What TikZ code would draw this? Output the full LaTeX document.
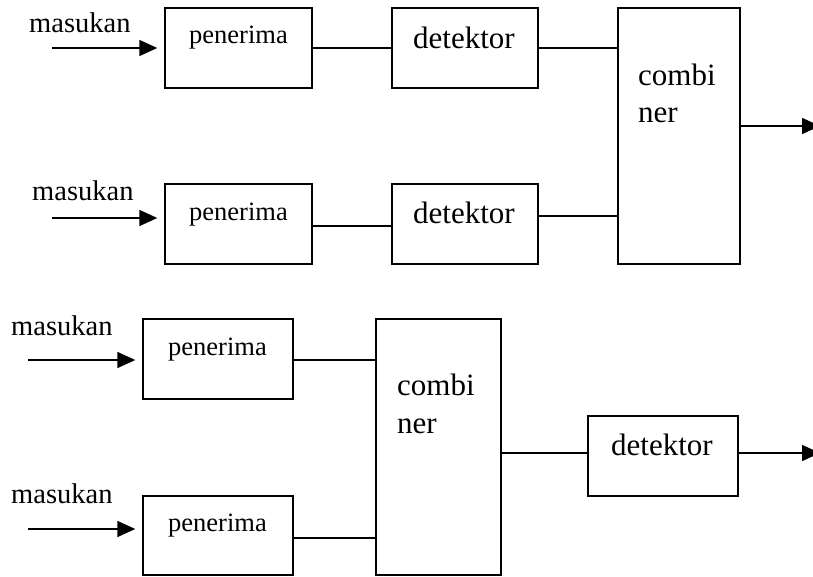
\documentclass[tikz,border=0pt]{standalone}
\usepackage{fontspec}
\setmainfont{Liberation Serif}
\usetikzlibrary{arrows.meta}
\tikzset{
  box/.style={draw, line width=1.4pt, inner sep=0pt, rectangle},
  wire/.style={line width=1.1pt},
  arr/.style={line width=1.5pt, -{Triangle[length=18pt,width=16pt]}},
  lbl/.style={inner sep=0pt, anchor=base west},
  inlbl/.style={lbl, font=\fontsize{28.5}{30}\selectfont},
  penlbl/.style={lbl, font=\fontsize{26.5}{28}\selectfont},
  biglbl/.style={lbl, font=\fontsize{31}{33}\selectfont},
}
\begin{document}
\begin{tikzpicture}[x=1pt, y=-1pt]
\useasboundingbox (0,0) rectangle (813,576);

% ---- upper chain: detection before combining ----
\node[box, minimum width=147pt, minimum height=80pt] (p1) at (238.5,48) {};
\node[box, minimum width=147pt, minimum height=80pt] (p2) at (238.5,224) {};
\node[box, minimum width=146pt, minimum height=80pt] (d1) at (465,48) {};
\node[box, minimum width=146pt, minimum height=80pt] (d2) at (465,224) {};
\node[box, minimum width=122pt, minimum height=256pt] (c1) at (679,136) {};

\node[inlbl] (m1) at (29,32) {masukan};
\node[inlbl] (m2) at (32,200) {masukan};
\node[penlbl] (tp1) at (189,43) {penerima};
\node[penlbl] (tp2) at (189,220) {penerima};
\node[biglbl] (td1) at (413,48) {detektor};
\node[biglbl] (td2) at (413,223) {detektor};
\node[biglbl] (tc1a) at (638,85) {combi};
\node[biglbl] (tc1b) at (638,122) {ner};

\coordinate (i1) at (52,48);
\coordinate (i2) at (52,218);
\coordinate (o1) at (820,126);
\draw[arr, shorten >=7pt] (i1) -- (p1.west |- i1);
\draw[arr, shorten >=7pt] (i2) -- (p2.west |- i2);
\draw[wire] (p1.east |- 0,48) -- (d1.west |- 0,48);
\draw[wire] (p2.east |- 0,226) -- (d2.west |- 0,226);
\draw[wire] (d1.east |- 0,48) -- (c1.west |- 0,48);
\draw[wire] (d2.east |- 0,216) -- (c1.west |- 0,216);
\draw[arr] (c1.east |- o1) -- (o1);

% ---- lower chain: combining before detection ----
\node[box, minimum width=150pt, minimum height=80pt] (p3) at (218,359) {};
\node[box, minimum width=150pt, minimum height=79pt] (p4) at (218,535.5) {};
\node[box, minimum width=125pt, minimum height=256pt] (c2) at (438.5,447) {};
\node[box, minimum width=150pt, minimum height=80pt] (d3) at (663,456) {};

\node[inlbl] (m3) at (11,335) {masukan};
\node[inlbl] (m4) at (11,503) {masukan};
\node[penlbl] (tp3) at (168,355) {penerima};
\node[penlbl] (tp4) at (168,531) {penerima};
\node[biglbl] (tc2a) at (397,395) {combi};
\node[biglbl] (tc2b) at (397,433) {ner};
\node[biglbl] (td3) at (611,455) {detektor};

\coordinate (i3) at (28,360);
\coordinate (i4) at (28,529);
\coordinate (o2) at (820,453);
\draw[arr, shorten >=7pt] (i3) -- (p3.west |- i3);
\draw[arr, shorten >=7pt] (i4) -- (p4.west |- i4);
\draw[wire] (p3.east |- 0,360) -- (c2.west |- 0,360);
\draw[wire] (p4.east |- 0,538) -- (c2.west |- 0,538);
\draw[wire] (c2.east |- 0,453) -- (d3.west |- 0,453);
\draw[arr] (d3.east |- o2) -- (o2);
\end{tikzpicture}
\end{document}
